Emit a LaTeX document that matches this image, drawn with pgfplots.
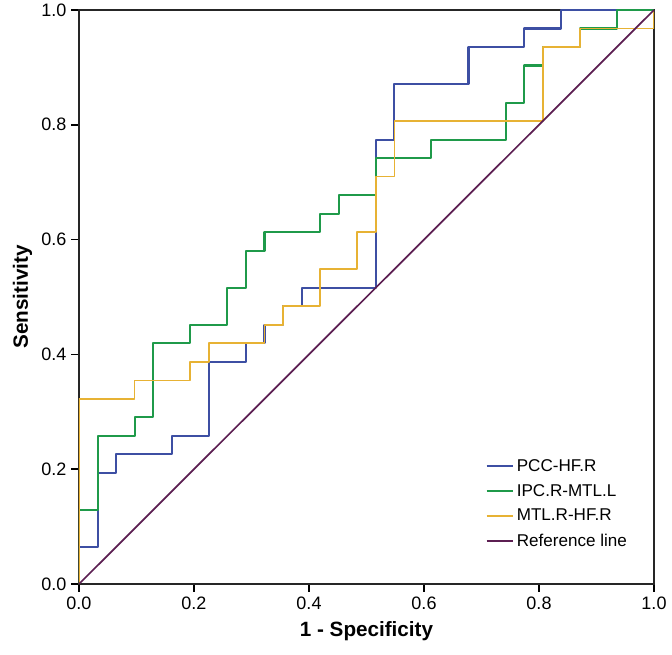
\documentclass[border=0pt]{standalone}
\usepackage{fontspec}
\setmainfont{Liberation Sans}
\usepackage{pgfplots}
\pgfplotsset{compat=1.18}
\definecolor{cblue}{HTML}{3D4FA3}
\definecolor{cgreen}{HTML}{1F9A4A}
\definecolor{cyellow}{HTML}{E7B234}
\definecolor{cref}{HTML}{5C1F52}
\newcommand{\ticklab}{\fontsize{13.5}{16}\selectfont}
\newcommand{\leglab}{\fontsize{12.8}{15}\selectfont}
\newcommand{\axlab}{\fontsize{15.5}{18}\selectfont\bfseries}

\begin{document}
\begin{tikzpicture}
\begin{axis}[
  scale only axis, width=431.25pt, height=430.5pt,
  xmin=0, xmax=1, ymin=0, ymax=1,
  xtick={0,0.2,...,1}, ytick={0,0.2,...,1},
  xticklabel style={/pgf/number format/.cd, fixed, fixed zerofill, precision=1},
  yticklabel style={/pgf/number format/.cd, fixed, fixed zerofill, precision=1},
  /pgf/number format/assume math mode=true,
  tick label style={font=\ticklab},
  tick pos=left, tick align=outside, major tick length=6pt,
  tick style={line width=1.2pt, black},
  axis line style={line width=1.4pt, black!85},
  xlabel={1 - Specificity}, ylabel={Sensitivity},
  label style={font=\axlab},
  xlabel style={yshift=-2pt}, ylabel style={yshift=0pt},
  legend style={draw=none, fill=none, font=\leglab, at={(0.70,0.227)}, anchor=north west,
    row sep=4.2pt, legend cell align=left},
  legend image code/.code={\draw[#1, line width=1.3pt] (0pt,0pt) -- (20pt,0pt);},
  every axis plot/.append style={line width=1.6pt, line join=round},
]
\addplot[cblue] table {
x y
0 0
0 0.0645
0.0323 0.0645
0.0323 0.1935
0.0645 0.1935
0.0645 0.2258
0.1613 0.2258
0.1613 0.2581
0.2258 0.2581
0.2258 0.3871
0.2903 0.3871
0.2903 0.4194
0.3226 0.4194
0.3226 0.4516
0.3548 0.4516
0.3548 0.4839
0.3871 0.4839
0.3871 0.5161
0.5161 0.5161
0.5161 0.7742
0.5484 0.7742
0.5484 0.8710
0.6774 0.8710
0.6774 0.9355
0.7742 0.9355
0.7742 0.9677
0.8387 0.9677
0.8387 1
1 1
};
\addlegendentry{PCC-HF.R}
\addplot[cgreen] table {
x y
0 0
0 0.1290
0.0323 0.1290
0.0323 0.2581
0.0968 0.2581
0.0968 0.2903
0.1290 0.2903
0.1290 0.4194
0.1935 0.4194
0.1935 0.4516
0.2581 0.4516
0.2581 0.5161
0.2903 0.5161
0.2903 0.5806
0.3226 0.5806
0.3226 0.6129
0.4194 0.6129
0.4194 0.6452
0.4516 0.6452
0.4516 0.6774
0.5161 0.6774
0.5161 0.7419
0.6129 0.7419
0.6129 0.7742
0.7419 0.7742
0.7419 0.8387
0.7742 0.8387
0.7742 0.9032
0.8065 0.9032
0.8065 0.9355
0.8710 0.9355
0.8710 0.9677
0.9355 0.9677
0.9355 1
1 1
};
\addlegendentry{IPC.R-MTL.L}
\addplot[cyellow, line width=1.2pt] table {
x y
0 0
0 0.3226
0.0968 0.3226
0.0968 0.3548
0.1935 0.3548
0.1935 0.3871
0.2258 0.3871
0.2258 0.4194
0.3226 0.4194
0.3226 0.4516
0.3548 0.4516
0.3548 0.4839
0.4194 0.4839
0.4194 0.5484
0.4839 0.5484
0.4839 0.6129
0.5161 0.6129
0.5161 0.7097
0.5484 0.7097
0.5484 0.8065
0.8065 0.8065
0.8065 0.9355
0.8710 0.9355
0.8710 0.9677
1 0.9677
1 1
};
\addlegendentry{MTL.R-HF.R}
\addplot[cref, line width=1.3pt] table {
x y
0 0
1 1
};
\addlegendentry{Reference line}
\end{axis}
\pgfresetboundingbox
\path (current axis.south west) ++(-59.25pt,-53.25pt);
\path (current axis.north east) ++(13.5pt,7.5pt);
\end{tikzpicture}
\end{document}
